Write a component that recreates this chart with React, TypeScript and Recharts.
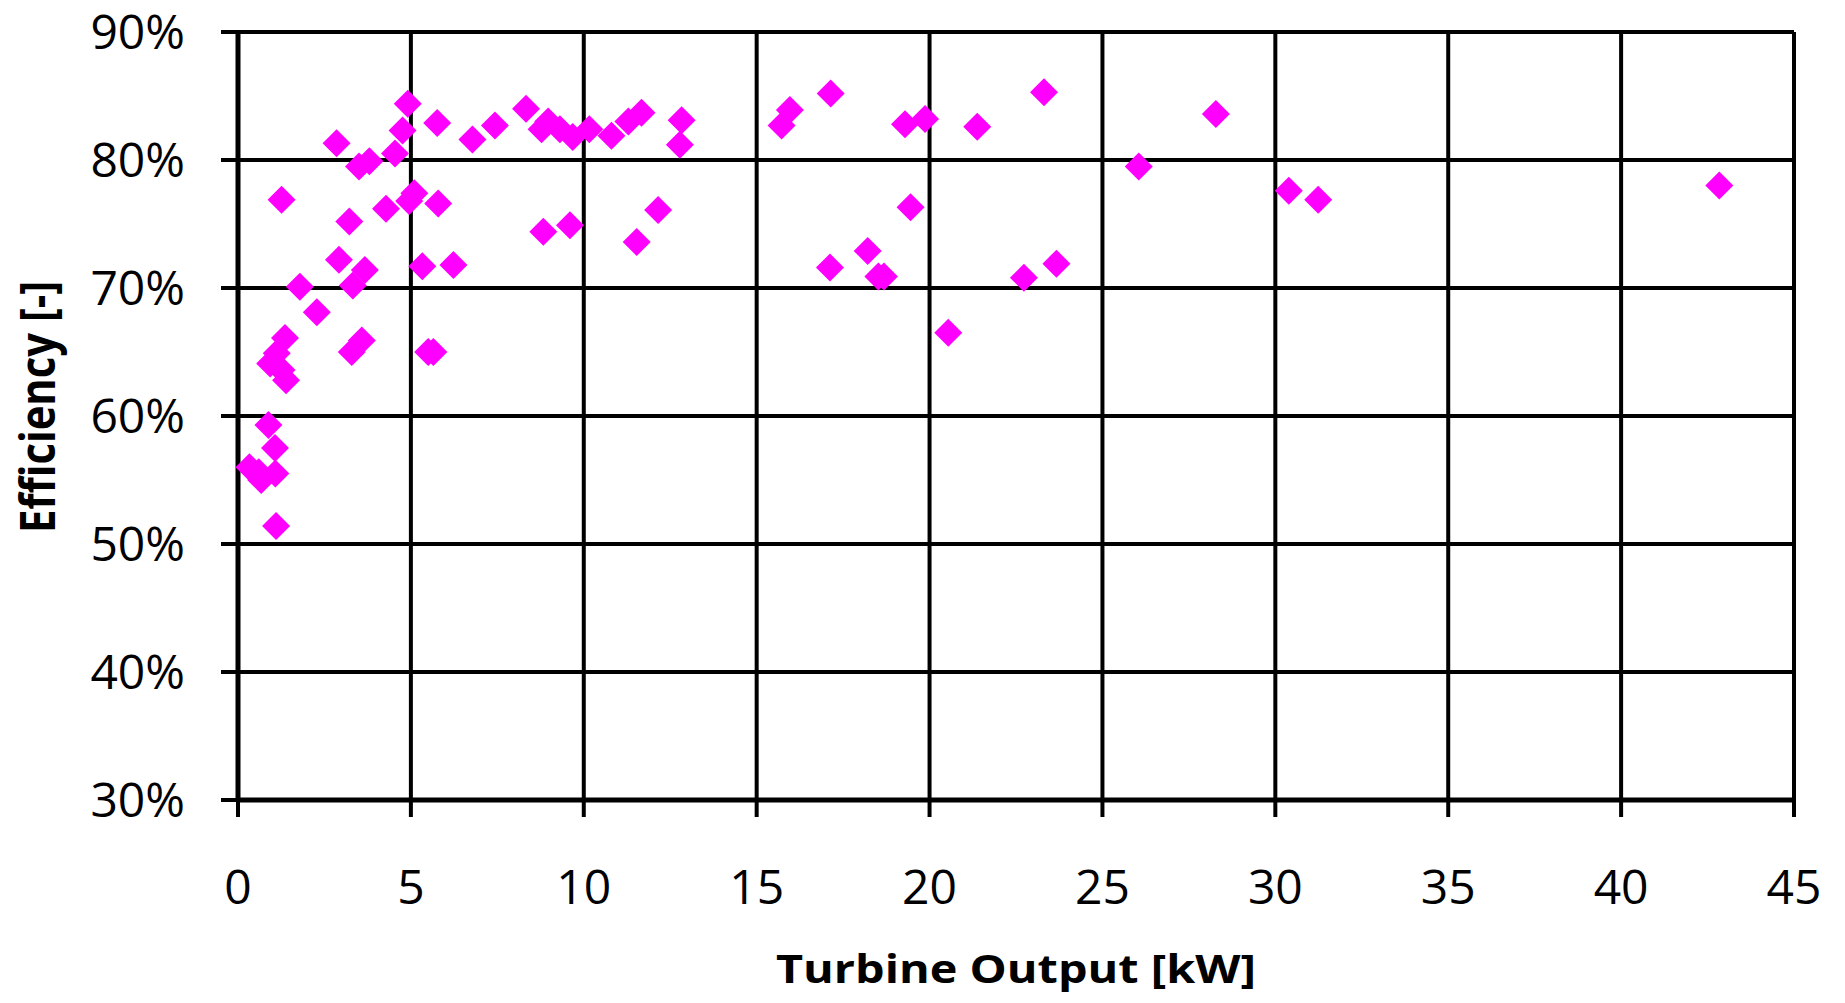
import React from "react";
import { ScatterChart, Scatter, XAxis, YAxis, CartesianGrid } from "recharts";

const outputKW: number[] = [
  0.33, 0.6, 0.67, 1.08, 0.88, 1.07, 1.1,
  0.93, 1.12, 1.26, 1.39, 1.36, 1.26, 1.79, 2.28,
  2.92, 3.22, 2.85, 3.29, 3.58, 3.32, 3.67, 3.5, 3.8,
  4.28, 4.54, 4.76, 4.91, 4.95, 5.1, 5.33, 5.5, 5.65,
  5.79, 5.76, 6.23, 6.78, 7.43, 8.33, 8.78, 8.97, 8.83,
  9.31, 9.6, 9.68, 10.16, 10.8, 11.29, 11.67, 11.53, 12.15,
  12.83, 12.78, 15.72, 15.96, 17.14, 17.12, 18.21, 18.52, 18.68,
  19.29, 19.87, 19.45, 20.54, 21.38, 22.73, 23.31, 23.67,
  26.05, 28.28, 30.39, 31.24, 42.84,
];

const efficiencyPct: number[] = [
  56.0, 55.6, 55.0, 55.5, 59.3, 57.5, 51.4,
  64.1, 64.9, 63.6, 62.8, 66.1, 76.9, 70.1, 68.1,
  72.2, 75.2, 81.3, 65.0, 65.9, 70.2, 71.4, 79.5, 79.9,
  76.2, 80.5, 82.3, 84.4, 76.8, 77.4, 71.7, 65.0, 65.0,
  76.6, 82.9, 71.8, 81.6, 82.7, 84.0, 82.4, 83.0, 74.4,
  82.4, 74.9, 81.8, 82.4, 81.9, 83.0, 83.7, 73.6, 76.1,
  83.1, 81.2, 82.7, 83.9, 85.2, 71.6, 72.9, 70.9, 70.9,
  82.8, 83.2, 76.3, 66.5, 82.6, 70.8, 85.3, 71.9,
  79.5, 83.6, 77.6, 76.9, 78.0,
];

const xTicks: number[] = [0, 5, 10, 15, 20, 25, 30, 35, 40, 45];
const yTicks: number[] = [30, 40, 50, 60, 70, 80, 90];

const xTitle = "Turbine Output [kW]";
const yTitle = "Efficiency [-]";

const data = outputKW.map((x, i) => ({ x, y: efficiencyPct[i] }));

const Diamond = (props: any) => {
  const { cx, cy } = props;
  if (cx == null || cy == null) return null;
  const r = 14;
  return (
    <polygon
      points={`${cx},${cy - r} ${cx + r},${cy} ${cx},${cy + r} ${cx - r},${cy}`}
      fill="#FF00FF"
    />
  );
};

const XTitle = (props: any) => {
  const vb = props.viewBox || { x: 238, y: 800, width: 1556, height: 203 };
  return (
    <text
      x={vb.x + vb.width / 2}
      y={vb.y + 183}
      textAnchor="middle"
      fontFamily="'Open Sans', sans-serif"
      fontWeight="bold"
      fontSize={39}
      fill="#000"
      textLength={480}
      lengthAdjust="spacingAndGlyphs"
    >
      {xTitle}
    </text>
  );
};

const YTitle = (props: any) => {
  const vb = props.viewBox || { x: 0, y: 32, width: 238, height: 768 };
  const cx = vb.x + 55;
  const cy = vb.y + vb.height / 2 - 9;
  return (
    <text
      x={cx}
      y={cy}
      transform={`rotate(-90 ${cx} ${cy})`}
      textAnchor="middle"
      fontFamily="'Open Sans', sans-serif"
      fontWeight="bold"
      fontSize={49}
      fill="#000"
      textLength={252}
      lengthAdjust="spacingAndGlyphs"
    >
      {yTitle}
    </text>
  );
};

export default function App() {
  return (
    <div style={{ position: "absolute", left: 0, top: 0, background: "#fff" }}>
      <ScatterChart
        width={1845}
        height={1003}
        margin={{ top: 32, right: 51, bottom: 0, left: 0 }}
      >
        <CartesianGrid stroke="#000" strokeWidth={4} strokeOpacity={1} />
        <XAxis
          type="number"
          dataKey="x"
          domain={[0, 45]}
          ticks={xTicks}
          interval={0}
          height={203}
          tickSize={17}
          tickMargin={53}
          axisLine={{ stroke: "#000", strokeWidth: 5 }}
          tickLine={{ stroke: "#000", strokeWidth: 4 }}
          tick={{ fill: "#000", fontSize: 48, fontFamily: "'Open Sans', sans-serif" }}
          label={{ content: <XTitle /> }}
        />
        <YAxis
          type="number"
          dataKey="y"
          domain={[30, 90]}
          ticks={yTicks}
          interval={0}
          width={238}
          tickSize={17}
          tickMargin={36}
          tickFormatter={(v: number) => `${v}%`}
          axisLine={{ stroke: "#000", strokeWidth: 5 }}
          tickLine={{ stroke: "#000", strokeWidth: 4 }}
          tick={{ fill: "#000", fontSize: 48, fontFamily: "'Open Sans', sans-serif" }}
          label={{ content: <YTitle /> }}
        />
        <Scatter data={data} shape={<Diamond />} isAnimationActive={false} />
      </ScatterChart>
    </div>
  );
}
